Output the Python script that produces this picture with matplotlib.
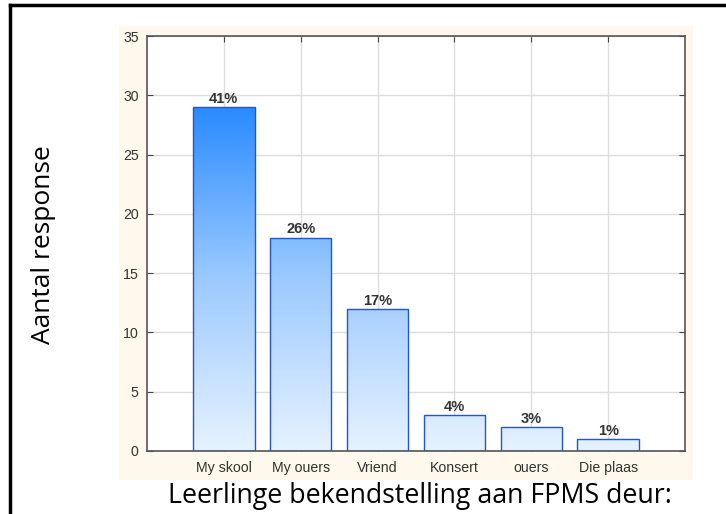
import matplotlib
matplotlib.use('Agg')
import matplotlib.pyplot as plt
import numpy as np
from matplotlib.colors import LinearSegmentedColormap
from matplotlib.patches import Rectangle

## data
categories = ['My skool', 'My ouers', 'Vriend', 'Konsert', 'ouers', 'Die plaas']
counts = [29, 18, 12, 3, 2, 1]
percent_labels = ['41%', '26%', '17%', '4%', '3%', '1%']

fig = plt.figure(figsize=(7.26, 5.14), dpi=100)

## outer frame lines (top and left only)
fig.add_artist(plt.Line2D([10 / 726, 1.0], [1 - 5 / 514, 1 - 5 / 514], color='black', linewidth=2.5))
fig.add_artist(plt.Line2D([10 / 726, 10 / 726], [0.0, 1 - 5 / 514], color='black', linewidth=2.5))

## beige panel behind the plot
fig.add_artist(Rectangle((119 / 726, 1 - 480 / 514), (693 - 119) / 726, (480 - 26) / 514,
                         transform=fig.transFigure, facecolor='#fff8ec', edgecolor='none', zorder=0))

ax = fig.add_axes([147 / 726, 1 - 451 / 514, (685 - 147) / 726, (451 - 36) / 514])
ax.set_facecolor('white')

x = np.arange(1, len(categories) + 1)
bars = ax.bar(x, counts, width=0.8, color='none', edgecolor='#1f55d6', linewidth=1.0, zorder=3)

## vertical gradient shared by all bars (dark at top of tallest bar)
cmap = LinearSegmentedColormap.from_list('bluegrad', ['#e6f2ff', '#9ccaff', '#2a8bff'])
grad = np.linspace(0, 1, 256).reshape(-1, 1)
for b in bars:
    im = ax.imshow(grad, cmap=cmap, origin='lower', aspect='auto',
                   extent=[b.get_x(), b.get_x() + b.get_width(), 0, max(counts)],
                   vmin=0, vmax=1, zorder=2)
    im.set_clip_path(b)

for xi, c, lab in zip(x, counts, percent_labels):
    ax.text(xi, c + 0.1, lab, ha='center', va='bottom', fontsize=10.5, fontweight='bold',
            color='#333333', family='Liberation Sans', zorder=4)

ax.set_xlim(0, 7)
ax.set_ylim(0, 35)
ax.set_xticks(x)
ax.set_xticklabels(categories, family='Liberation Sans', fontsize=10.2, color='#333333')
ax.set_yticks(np.arange(0, 36, 5))
ax.set_yticklabels([str(v) for v in range(0, 36, 5)], family='Liberation Sans', fontsize=10.2, color='#333333')

ax.grid(True, color='#dddddd', linewidth=1.0, zorder=0)
ax.set_axisbelow(True)
ax.tick_params(direction='in', top=True, right=True, length=4, color='#444444')
ax.tick_params(axis='x', pad=7)
ax.tick_params(axis='y', pad=6)
for s in ax.spines.values():
    s.set_color('#555555')
    s.set_linewidth(1.2)

fig.text(44 / 726, 1 - 245 / 514, 'Aantal response', rotation=90, ha='center', va='center',
         fontsize=19, family='Open Sans', color='black')
fig.text(420 / 726, 1 - 496 / 514, 'Leerlinge bekendstelling aan FPMS deur:', ha='center', va='center',
         fontsize=19.3, family='Open Sans', color='black')

fig.savefig('out.png', dpi=100)
